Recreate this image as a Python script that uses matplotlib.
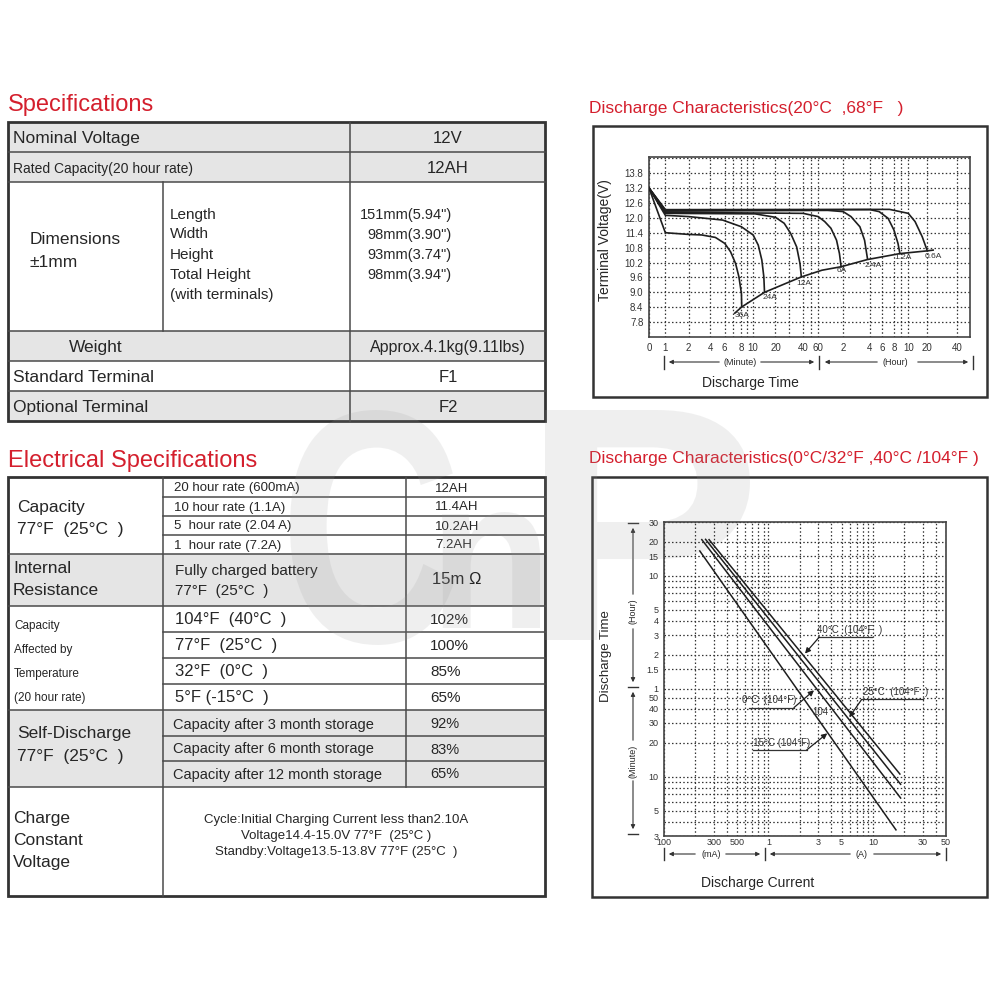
import numpy as np
import matplotlib
matplotlib.use('Agg')
import matplotlib.pyplot as plt
from matplotlib.patches import Rectangle, PathPatch
from matplotlib.textpath import TextPath
from matplotlib.font_manager import FontProperties
from matplotlib.transforms import Affine2D
from matplotlib.ticker import NullFormatter

plt.rcParams['font.family'] = ['Liberation Sans', 'DejaVu Sans']

RED = '#d41f2d'
FILL = '#e5e5e5'
INK = '#262626'
LINE = '#4a4a4a'

# -------------------------------
# table contents
# -------------------------------
spec_labels = ['Nominal Voltage', 'Rated Capacity(20 hour rate)', 'Weight',
               'Standard Terminal', 'Optional Terminal']
spec_values = ['12V', '12AH', 'Approx.4.1kg(9.11lbs)', 'F1', 'F2']
dim_names = ['Length', 'Width', 'Height', 'Total Height', '(with terminals)']
dim_values = ['151mm(5.94")', '98mm(3.90")', '93mm(3.74")', '98mm(3.94")']

cap_rates = ['20 hour rate (600mA)', '10 hour rate (1.1A)',
             '5  hour rate (2.04 A)', '1  hour rate (7.2A)']
cap_values = ['12AH', '11.4AH', '10.2AH', '7.2AH']
temp_labels = ['104°F  (40°C  )', '77°F  (25°C  )', '32°F  (0°C  )', '5°F (-15°C  )']
temp_values = ['102%', '100%', '85%', '65%']
store_labels = ['Capacity after 3 month storage', 'Capacity after 6 month storage',
                'Capacity after 12 month storage']
store_values = ['92%', '83%', '65%']
charge_lines = ['Cycle:Initial Charging Current less than2.10A',
                'Voltage14.4-15.0V 77°F  (25°C )',
                'Standby:Voltage13.5-13.8V 77°F (25°C  )']

# -------------------------------
# discharge curves at 20C (minutes, volts)
# -------------------------------
t_36a = [0, 1, 2.05, 3.2, 4.7, 6, 6.7, 7.3, 7.7, 8, 8.05]
v_36a = [13.2, 11.4, 11.33, 11.31, 11.21, 10.97, 10.63, 10.16, 9.62, 8.95, 8.41]
t_24a = [0, 1, 2, 5.7, 8, 10, 12.3, 13.9, 14.8, 15.1]
v_24a = [13.2, 12.1, 12.05, 11.91, 11.64, 11.31, 10.9, 10.3, 9.62, 9.0]
t_12a = [0, 1, 10.9, 20, 26.3, 31, 35.3, 37.7, 38.7]
v_12a = [13.2, 12.18, 12.16, 12.02, 11.78, 11.37, 10.83, 10.16, 9.62]
t_6a = [0, 1, 40, 60, 75.6, 90.6, 104, 111, 115]
v_6a = [13.2, 12.22, 12.18, 12.05, 11.85, 11.58, 11.1, 10.56, 10.03]
t_2a4 = [0, 1, 83, 120, 155, 195, 216, 229]
v_2a4 = [13.2, 12.27, 12.3, 12.25, 12.05, 11.64, 11.1, 10.36]
t_1a2 = [0, 1, 240, 330, 420, 480, 514, 530]
v_1a2 = [13.2, 12.3, 12.33, 12.25, 11.98, 11.51, 10.97, 10.56]
t_0a6 = [0, 1, 435, 600, 814, 1040, 1200]
v_0a6 = [13.2, 12.33, 12.34, 12.18, 11.85, 11.24, 10.67]
t_end = [7.2, 8.05, 15.1, 38.7, 69, 115, 229, 530, 1200, 1433]
v_end = [8.16, 8.41, 9.0, 9.62, 9.89, 10.03, 10.32, 10.56, 10.67, 10.7]

curve_names = ['36A', '24A', '12A', '6A', '2.4A', '1.2A', '0.6A']
name_t = [8.2, 17.7, 41, 117, 277, 555, 1433]
name_v = [8.05, 8.78, 9.35, 9.86, 10.07, 10.4, 10.43]

t_ticks = [0, 1, 2, 4, 6, 8, 10, 20, 40, 60, 120, 240, 360, 480, 600, 1200, 2400]
t_labels = ['0', '1', '2', '4', '6', '8', '10', '20', '40', '60',
            '2', '4', '6', '8', '10', '20', '40']
t_grid = [7, 9, 30, 50, 540]
v_ticks = [7.8, 8.4, 9.0, 9.6, 10.2, 10.8, 11.4, 12.0, 12.6, 13.2, 13.8]

# -------------------------------
# discharge time vs current (A, minutes)
# -------------------------------
i_40c = [0.27, 18.1]
m_40c = [1257, 10.6]
i_25c = [0.25, 18.4]
m_25c = [1264, 8.6]
i_0c = [0.23, 18.4]
m_0c = [1257, 6.5]
i_m15c = [0.22, 16.6]
m_m15c = [998, 3.4]

i_ticks = [0.1, 0.3, 0.5, 1, 3, 5, 10, 30, 50]
i_labels = ['100', '300', '500', '1', '3', '5', '10', '30', '50']
i_grid = [0.2, 0.4, 0.6, 0.7, 0.8, 0.9, 2, 4, 6, 7, 8, 9, 20, 40]
m_ticks = [1800, 1200, 900, 600, 300, 240, 180, 120, 90, 60, 50, 40, 30, 20, 10, 5, 3]
m_labels = ['30', '20', '15', '10', '5', '4', '3', '2', '1.5', '1',
            '50', '40', '30', '20', '10', '5', '3']
m_grid = [540, 480, 420, 360, 9, 8, 7, 6, 4]

# -------------------------------
# page
# -------------------------------
fig = plt.figure(figsize=(10, 10), dpi=100)
bg = fig.add_axes([0, 0, 1, 1])
bg.set_xlim(0, 1000)
bg.set_ylim(1000, 0)
bg.axis('off')


def box(x0, y0, x1, y1, fc='none', ec='none', lw=0):
    bg.add_patch(Rectangle((x0, y0), x1 - x0, y1 - y0, fc=fc, ec=ec, lw=lw))


def hl(y, x0=8, x1=545):
    bg.plot([x0, x1], [y, y], color=LINE, lw=1.1)


def vl(x, y0, y1):
    bg.plot([x, x], [y0, y1], color=LINE, lw=1.1)


def txt(x, y, s, size=12, ha='left', color=INK, **kw):
    bg.text(x, y + 1.5, s, fontsize=size, ha=ha, va='center', color=color, **kw)


# Specifications table
txt(8, 103, 'Specifications', 17, color=RED)
for y0 in (122, 152, 331, 391):
    box(8, y0, 545, y0 + 30, fc=FILL)
for y in (152, 182, 331, 361, 391):
    hl(y)
vl(350, 122, 421)
vl(163, 182, 331)
box(8, 122, 545, 421, ec='#333333', lw=2)

spec_y = [137, 167, 346, 376, 406]
for s, v, y in zip(spec_labels, spec_values, spec_y):
    if s == 'Weight':
        txt(96, y, s, 12.5, ha='center')
    else:
        txt(13, y, s, 10 if s.startswith('Rated') else 12.5)
    txt(448, y, v, 12 if s != 'Weight' else 11.5, ha='center')
txt(30, 238, 'Dimensions', 12.5)
txt(30, 261, '±1mm', 12.5)
for k, s in enumerate(dim_names):
    txt(170, 213 + 20 * k, s, 11)
for k, s in enumerate(dim_values):
    txt(452, 213 + 20 * k, s, 10.5, ha='right')

# Electrical table
txt(8, 459, 'Electrical Specifications', 17, color=RED)
box(8, 554, 545, 606, fc=FILL)
box(8, 710, 545, 787, fc=FILL)
for y in (554, 606, 710, 787):
    hl(y)
for y in (497, 516, 535, 632, 658, 684, 736, 761):
    hl(y, 163, 545)
vl(163, 477, 896)
vl(406, 477, 787)
box(8, 477, 545, 896, ec='#333333', lw=2)

txt(17, 506, 'Capacity', 12.5)
txt(17, 528, '77°F  (25°C  )', 12.5)
for k, (s, v) in enumerate(zip(cap_rates, cap_values)):
    txt(174, 487 + 19 * k, s, 9.5)
    txt(435, 487 + 19 * k, v, 9.5)
txt(13, 567, 'Internal', 12.5)
txt(13, 589, 'Resistance', 12.5)
txt(175, 570, 'Fully charged battery', 11)
txt(175, 589, '77°F  (25°C  )', 11)
txt(432, 578, '15m Ω', 12)
for k, s in enumerate(['Capacity', 'Affected by', 'Temperature', '(20 hour rate)']):
    txt(14, 625 + 24 * k, s, 8.5)
for k, (s, v) in enumerate(zip(temp_labels, temp_values)):
    txt(175, 618 + 26 * k, s, 12)
    txt(430, 618 + 26 * k, v, 11)
txt(17, 732, 'Self-Discharge', 12.5)
txt(17, 755, '77°F  (25°C  )', 12.5)
for k, (s, v) in enumerate(zip(store_labels, store_values)):
    txt(173, 723 + 25 * k, s, 10.5)
    txt(430, 723 + 25 * k, v, 10.5)
for k, s in enumerate(['Charge', 'Constant', 'Voltage']):
    txt(13, 817 + 22 * k, s, 12.5)
for k, s in enumerate(charge_lines):
    txt(336, 818 + 16 * k, s, 9.5, ha='center')

# chart frames and titles
txt(589, 107, 'Discharge Characteristics(20°C  ,68°F   )', 12.5, color=RED)
box(593, 126, 987, 397, ec='#333333', lw=1.8)
txt(589, 457, 'Discharge Characteristics(0°C/32°F ,40°C /104°F )', 12.5, color=RED)
box(592, 477, 987, 897, ec='#333333', lw=1.8)


def span_arrow(x0, x1, y, vertical=False):
    a = dict(arrowstyle='-|>', color='#333333', lw=0.8, mutation_scale=6)
    if vertical:
        bg.annotate('', xy=(y, x1), xytext=(y, x0), arrowprops=a)
    else:
        bg.annotate('', xy=(x1, y), xytext=(x0, y), arrowprops=a)


# top chart range bars
for x in (664, 819, 973):
    bg.plot([x, x], [356, 369], color='#333333', lw=1)
span_arrow(722, 666, 362)
span_arrow(758, 817, 362)
span_arrow(880, 822, 362)
span_arrow(915, 971, 362)
txt(740, 361, '(Minute)', 6.5, ha='center')
txt(895, 361, '(Hour)', 6.5, ha='center')
txt(750, 382, 'Discharge Time', 10, ha='center')
bg.text(605, 240, 'Terminal Voltage(V)', fontsize=10, rotation=90,
        ha='center', va='center', color=INK)

# bottom chart range bars
for y in (523, 687, 834):
    bg.plot([628, 638], [y, y], color='#333333', lw=1)
for x in (664, 765, 946):
    bg.plot([x, x], [848, 860], color='#333333', lw=1)
span_arrow(597, 525, 633, vertical=True)
span_arrow(626, 685, 633, vertical=True)
span_arrow(743, 689, 633, vertical=True)
span_arrow(778, 832, 633, vertical=True)
bg.text(633, 611, '(Hour)', fontsize=6.5, rotation=90, ha='center', va='center', color=INK)
bg.text(633, 761, '(Minute)', fontsize=6.5, rotation=90, ha='center', va='center', color=INK)
bg.text(606, 656, 'Discharge Time', fontsize=9.5, rotation=90, ha='center', va='center', color=INK)
span_arrow(698, 666, 854)
span_arrow(723, 763, 854)
span_arrow(853, 767, 854)
span_arrow(871, 944, 854)
txt(711, 853, '(mA)', 6.5, ha='center')
txt(862, 853, '(A)', 6.5, ha='center')
txt(758, 882, 'Discharge Current', 10, ha='center')

# watermark
wm_font = FontProperties(family='Liberation Sans', weight='bold')
for ch, (x0, x1, y0, y1) in zip('CnP', [(290, 455, 410, 645), (442, 540, 512, 628),
                                         (545, 750, 410, 640)]):
    tp = TextPath((0, 0), ch, size=1, prop=wm_font)
    ext = tp.get_extents()
    tr = (Affine2D().translate(-ext.x0, -ext.y0)
          .scale((x1 - x0) / ext.width, -(y1 - y0) / ext.height)
          .translate(x0, y1))
    bg.add_patch(PathPatch(tr.transform_path(tp), fc='#9a9a9a', ec='none',
                           alpha=0.15, zorder=5))

# -------------------------------
# chart 1: voltage vs time
# -------------------------------
t_knots = np.array([0, 1, 2, 4, 6, 8, 10, 20, 40, 60, 120, 240, 360, 480, 600,
                    1200, 2400, 3200], float)
p_knots = np.array([178, 227, 297, 362, 405, 455, 490, 557, 640, 685, 760, 840,
                    877, 912, 955, 1012, 1102, 1140], float)


def fwd(x):
    return np.interp(x, t_knots, p_knots)


def inv(p):
    return np.interp(p, p_knots, t_knots)


grid_kw = dict(color='#333333', lw=0.9, linestyle=(0, (1.2, 1.8)))

ax1 = fig.add_axes([0.649, 1 - 0.337, 0.321, 0.180])
ax1.set_facecolor('none')
ax1.set_xscale('function', functions=(fwd, inv))
ax1.set_xlim(0, 3200)
ax1.set_ylim(7.2, 14.45)
ax1.set_xticks(t_ticks, t_labels)
ax1.set_xticks(t_grid, minor=True)
ax1.set_yticks(v_ticks, [f'{v:.1f}' for v in v_ticks])
ax1.set_yticks([14.4], minor=True)
ax1.xaxis.set_minor_formatter(NullFormatter())
ax1.yaxis.set_minor_formatter(NullFormatter())
ax1.grid(True, which='both', **grid_kw)
ax1.tick_params(which='both', length=0, labelsize=7, colors='#333333', pad=4)
for sp in ax1.spines.values():
    sp.set_color('#444444')
    sp.set_linewidth(1.2)

for t, v in [(t_36a, v_36a), (t_24a, v_24a), (t_12a, v_12a), (t_6a, v_6a),
             (t_2a4, v_2a4), (t_1a2, v_1a2), (t_0a6, v_0a6), (t_end, v_end)]:
    ax1.plot(t, v, color='#1e1e1e', lw=1.2, zorder=3)
for s, t, v in zip(curve_names, name_t, name_v):
    ax1.text(t, v, s, fontsize=6, ha='center', va='center', color='#333333')

# -------------------------------
# chart 2: discharge time vs current
# -------------------------------
ax2 = fig.add_axes([0.664, 1 - 0.836, 0.282, 0.314])
ax2.set_facecolor('none')
ax2.set_xscale('log')
ax2.set_yscale('log')
ax2.set_xlim(0.1, 50)
ax2.set_ylim(3, 1800)
ax2.set_xticks(i_ticks, i_labels)
ax2.set_xticks(i_grid, minor=True)
ax2.set_yticks(m_ticks, m_labels)
ax2.set_yticks(m_grid, minor=True)
ax2.xaxis.set_minor_formatter(NullFormatter())
ax2.yaxis.set_minor_formatter(NullFormatter())
ax2.grid(True, which='both', **grid_kw)
ax2.tick_params(which='both', length=0, labelsize=6.5, colors='#333333', pad=4)
ax2.tick_params(axis='x', pad=1.5)
for sp in ax2.spines.values():
    sp.set_color('#444444')
    sp.set_linewidth(1.2)

for i, m in [(i_40c, m_40c), (i_25c, m_25c), (i_0c, m_0c), (i_m15c, m_m15c)]:
    ax2.plot(i, m, color='#1e1e1e', lw=1.1, zorder=3)

arr = dict(arrowstyle='-|>', color='#1e1e1e', lw=0.9, mutation_scale=8,
           shrinkA=0, shrinkB=0)
notes = [('40°C  (104°F  )', (0.541, 0.641), (0.551, 0.736, 0.634), (0.500, 0.581)),
         ('25°C  (104°F  )', (0.707, 0.443), (0.701, 0.920, 0.435), (0.657, 0.378)),
         ('0°C  (104°F)', (0.275, 0.416), (0.303, 0.461, 0.409), (0.532, 0.464)),
         ('-15°C (104°F)', (0.305, 0.281), (0.317, 0.506, 0.274), (0.579, 0.327))]
for s, (tx, ty), (u0, u1, uy), tip in notes:
    ax2.text(tx, ty, s, transform=ax2.transAxes, fontsize=7, color='#333333',
             va='bottom')
    ax2.plot([u0, u1], [uy, uy], transform=ax2.transAxes, color='#333333', lw=0.9)
    start = (u0, uy) if tip[0] < u0 else (u1, uy)
    ax2.annotate('', xy=tip, xytext=start, xycoords='axes fraction',
                 textcoords='axes fraction', arrowprops=arr)
ax2.text(0.527, 0.396, '104', transform=ax2.transAxes, fontsize=7,
         color='#333333', va='center')

fig.savefig('out.png', dpi=100)
